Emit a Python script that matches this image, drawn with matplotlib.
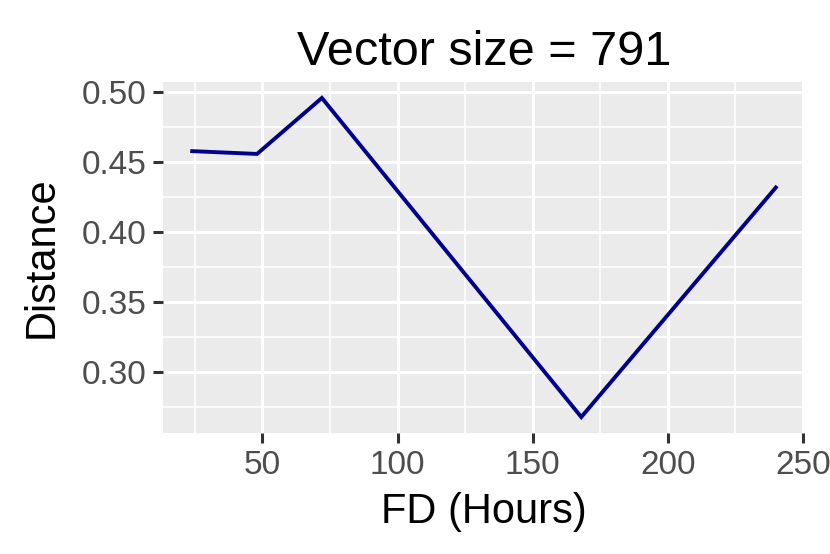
import matplotlib
matplotlib.use("Agg")
import matplotlib.pyplot as plt
from matplotlib.ticker import MultipleLocator

plt.rcParams["font.family"] = ["Liberation Sans", "DejaVu Sans"]

# --- Data ---
fd_hours = [24, 48, 72, 168, 240]
distance = [0.458, 0.456, 0.496, 0.268, 0.432]
x_ticks = [50, 100, 150, 200, 250]
y_ticks = [0.30, 0.35, 0.40, 0.45, 0.50]

fig = plt.figure(figsize=(8.3, 5.54), dpi=100)
ax = fig.add_axes([163 / 830, 1 - 433 / 554, (805 - 163) / 830, (433 - 82) / 554])

ax.set_facecolor("#EBEBEB")
ax.plot(fd_hours, distance, color="#00008B", linewidth=2.8, solid_joinstyle="miter", zorder=3)

# ggplot-style 5% expansion
xr = max(fd_hours) - min(fd_hours)
yr = max(distance) - min(distance)
ax.set_xlim(min(fd_hours) - 0.05 * xr, max(fd_hours) + 0.05 * xr)
ax.set_ylim(min(distance) - 0.05 * yr, max(distance) + 0.05 * yr)

ax.set_xticks(x_ticks)
ax.set_yticks(y_ticks)
ax.set_yticklabels([f"{v:.2f}" for v in y_ticks])
ax.xaxis.set_minor_locator(MultipleLocator(25))
ax.yaxis.set_minor_locator(MultipleLocator(0.025))

ax.grid(which="major", color="white", linewidth=2.2)
ax.grid(which="minor", color="white", linewidth=1.1)
ax.set_axisbelow(True)
for s in ax.spines.values():
    s.set_visible(False)

ax.tick_params(which="major", length=7, width=2.2, color="#333333",
               labelsize=24, labelcolor="#4D4D4D", pad=5)
ax.tick_params(which="minor", length=0)

ax.set_xlabel("FD (Hours)", fontsize=30, labelpad=8)
ax.set_ylabel("Distance", fontsize=30, labelpad=14)
ax.set_title("Vector size = 791", fontsize=35, pad=12)

fig.savefig("out.png", dpi=100)
